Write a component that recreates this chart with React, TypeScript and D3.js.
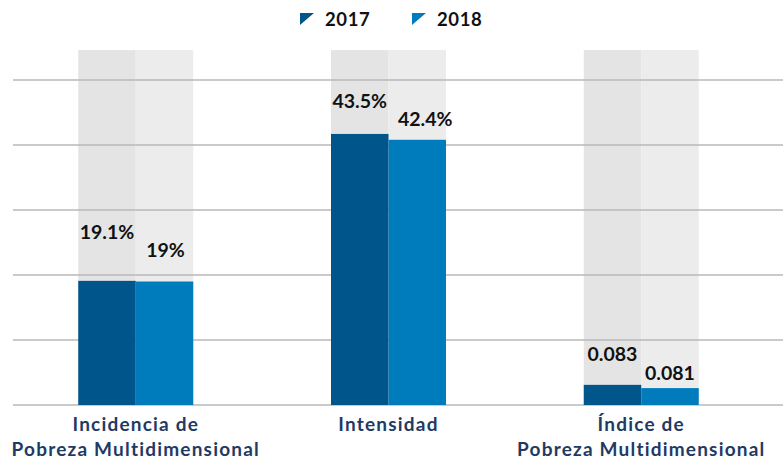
import React from "react";
import * as d3 from "d3";

const categories = [
  ["Incidencia de", "Pobreza Multidimensional"],
  ["Intensidad"],
  ["Índice de", "Pobreza Multidimensional"],
];
const seriesNames = ["2017", "2018"];
// plotted bar heights (grid of 10 units)
const values2017 = [19.1, 41.7, 3.1];
const values2018 = [19.0, 40.8, 2.6];
const labels2017 = ["19.1%", "43.5%", "0.083"];
const labels2018 = ["19%", "42.4%", "0.081"];
const backgroundValue = 54.6;
const yTicks = [0, 10, 20, 30, 40, 50];

const W = 783;
const H = 458;
const colors = ["#00558b", "#007bbb"];
const bgColors = ["#e4e4e4", "#ececec"];
// label lift above bar top (px), layout only
const lift2017 = [42, 26, 24];
const lift2018 = [25, 14, 8];
const dx2018 = [1, 8, 0];

export default function App() {
  const x = d3
    .scaleBand<number>()
    .domain(categories.map((_, i) => i))
    .range([10, 767])
    .paddingInner(0.545)
    .paddingOuter(0.27);
  const sub = d3.scaleBand<number>().domain([0, 1]).range([0, x.bandwidth()]);
  const y = d3.scaleLinear().domain([0, 50]).range([405, 80]);
  const series = [values2017, values2018];
  const labels = [labels2017, labels2018];
  const lifts = [lift2017, lift2018];
  const font = "Lato, 'Open Sans', sans-serif";

  return (
    <svg width={W} height={H} style={{ position: "absolute", left: 0, top: 0 }}>
      <rect width={W} height={H} fill="#fff" />
      {categories.map((_, i) =>
        [0, 1].map((s) => (
          <rect
            key={`bg${i}${s}`}
            x={(x(i) as number) + (sub(s) as number)}
            y={y(backgroundValue)}
            width={sub.bandwidth()}
            height={y(0) - y(backgroundValue)}
            fill={bgColors[s]}
          />
        ))
      )}
      {yTicks.map((t) => (
        <line
          key={t}
          x1={13}
          x2={W}
          y1={y(t)}
          y2={y(t)}
          stroke="#b8b8b8"
          strokeWidth={1.5}
        />
      ))}
      {categories.map((_, i) =>
        [0, 1].map((s) => (
          <rect
            key={`b${i}${s}`}
            x={(x(i) as number) + (sub(s) as number)}
            y={y(series[s][i])}
            width={sub.bandwidth()}
            height={y(0) - y(series[s][i])}
            fill={colors[s]}
          />
        ))
      )}
      {categories.map((_, i) =>
        [0, 1].map((s) => (
          <text
            key={`l${i}${s}`}
            x={(x(i) as number) + (sub(s) as number) + sub.bandwidth() / 2 + (s === 1 ? dx2018[i] : 0)}
            y={y(series[s][i]) - lifts[s][i]}
            textAnchor="middle"
            fontFamily={font}
            fontWeight={700}
            fontSize={19.5}
            fill="#111"
          >
            {labels[s][i]}
          </text>
        ))
      )}
      {categories.map((lines, i) => (
        <text
          key={`c${i}`}
          textAnchor="middle"
          fontFamily={font}
          fontWeight={700}
          fontSize={19}
          letterSpacing={1.2}
          fill="#1f3a64"
        >
          {lines.map((ln, k) => (
            <tspan key={k} x={(x(i) as number) + x.bandwidth() / 2} y={431 + k * 25}>
              {ln}
            </tspan>
          ))}
        </text>
      ))}
      {seriesNames.map((n, s) => {
        const lx = 300 + s * 112;
        return (
          <g key={n}>
            <polygon points={`${lx},13 ${lx + 14},13 ${lx},25`} fill={colors[s]} />
            <text x={lx + 25} y={26} fontFamily={font} fontWeight={700} fontSize={18.5} letterSpacing={0.6} fill="#111">
              {n}
            </text>
          </g>
        );
      })}
    </svg>
  );
}
